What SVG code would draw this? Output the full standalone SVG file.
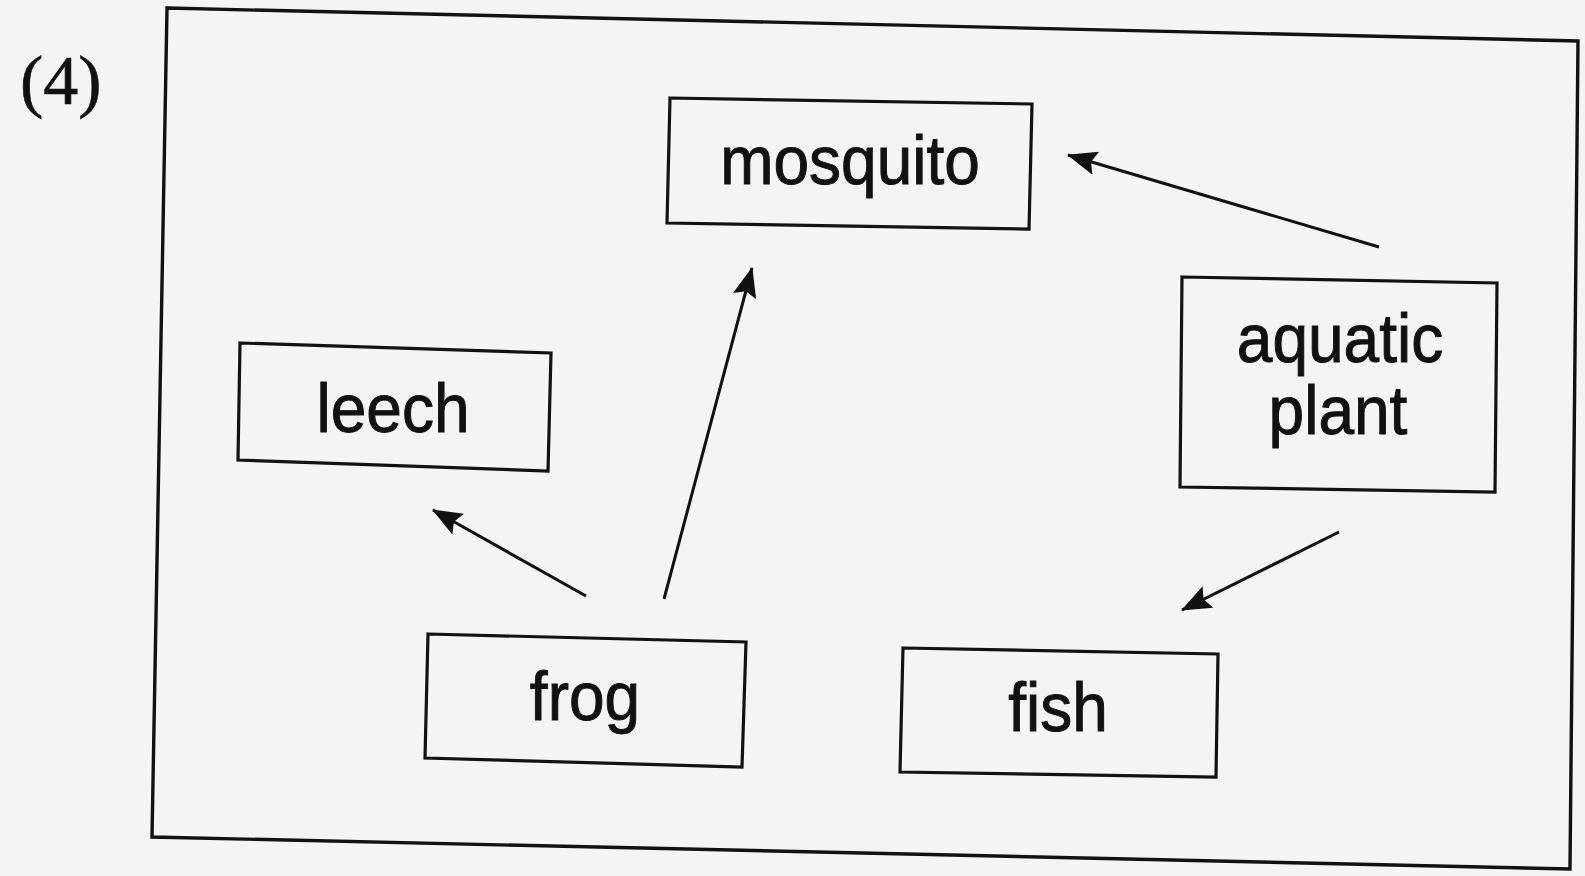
<svg xmlns="http://www.w3.org/2000/svg" width="1585" height="876" viewBox="0 0 1585 876">
  <style>
    .frame { fill: none; stroke: #111; stroke-width: 3.4; stroke-linejoin: miter; }
    .box { fill: none; stroke: #111; stroke-width: 3.2; stroke-linejoin: miter; }
    .label { font-family: "Liberation Sans", Arial, sans-serif; font-size: 64px; fill: #111; stroke: #111; stroke-width: 0.9; text-anchor: middle; }
    .num { font-family: "Liberation Serif", "Times New Roman", serif; font-size: 70px; fill: #111; stroke: #111; stroke-width: 0.6; }
    .edge { stroke: #111; stroke-width: 3; fill: none; marker-end: url(#head); }
  </style>
  <defs>
    <marker id="head" viewBox="0 0 30 24" refX="29" refY="12" markerWidth="30" markerHeight="24" markerUnits="userSpaceOnUse" orient="auto">
      <path d="M0,0 L30,12 L0,24 L5,12 z" fill="#111"/>
    </marker>
  </defs>

  <rect x="0" y="0" width="1585" height="876" fill="#f4f4f4"/>

  <text class="num" x="20" y="104">(4)</text>

  <!-- outer frame -->
  <polygon class="frame" points="167,8 1578,41 1570,869 152,837"/>

  <g id="mosquito">
    <polygon class="box" points="670,98 1032,104 1029,229 667,223"/>
    <text class="label" x="850" y="184" transform="translate(0,184) scale(1,1.06) translate(0,-184)">mosquito</text>
  </g>

  <g id="leech">
    <polygon class="box" points="240,343 551,353 548,471 238,460"/>
    <text class="label" x="393" y="432" transform="translate(0,432) scale(1,1.06) translate(0,-432)">leech</text>
  </g>

  <g id="aquatic-plant">
    <polygon class="box" points="1182,277 1497,283 1495,492 1180,487"/>
    <text class="label" x="1340" y="362" transform="translate(0,362) scale(1,1.06) translate(0,-362)">aquatic</text>
    <text class="label" x="1338" y="434" transform="translate(0,434) scale(1,1.06) translate(0,-434)">plant</text>
  </g>

  <g id="frog">
    <polygon class="box" points="428,634 746,642 742,767 425,758"/>
    <text class="label" x="585" y="720" transform="translate(0,720) scale(1,1.06) translate(0,-720)">frog</text>
  </g>

  <g id="fish">
    <polygon class="box" points="903,648 1218,654 1216,777 900,772"/>
    <text class="label" x="1058" y="731" transform="translate(0,731) scale(1,1.06) translate(0,-731)">fish</text>
  </g>

  <g id="connectors">
    <line class="edge" x1="1379" y1="247" x2="1068" y2="155"/>
    <line class="edge" x1="664" y1="599" x2="752" y2="268"/>
    <line class="edge" x1="586" y1="596" x2="433" y2="510"/>
    <line class="edge" x1="1339" y1="532" x2="1182" y2="610"/>
  </g>
</svg>
